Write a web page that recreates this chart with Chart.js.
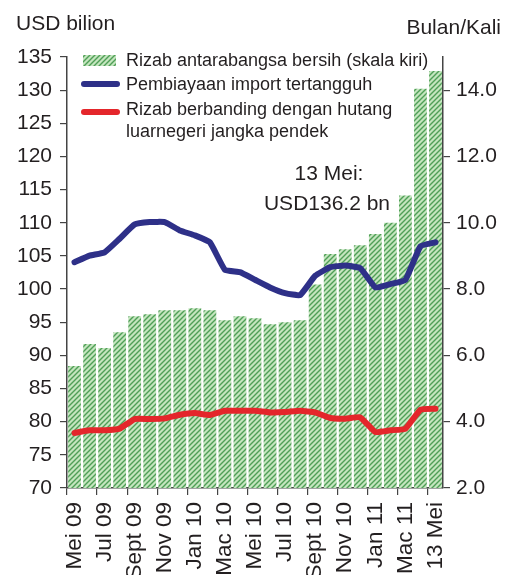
<!DOCTYPE html>
<html>
<head>
<meta charset="utf-8">
<script src="https://cdn.jsdelivr.net/npm/chart.js@4.4.0/dist/chart.umd.min.js"></script>
<style>
  html, body { margin: 0; padding: 0; background: #fff; }
  #wrap { width: 508px; height: 575px; }
</style>
</head>
<body>
<div id="wrap"><canvas id="myChart" width="508" height="575"></canvas></div>
<script>
// months on the x axis (only every second one gets a label)
var months = ['Mei 09', 'Jun 09', 'Jul 09', 'Ogos 09', 'Sept 09', 'Okt 09', 'Nov 09', 'Dis 09',
    'Jan 10', 'Feb 10', 'Mac 10', 'Apr 10', 'Mei 10', 'Jun 10', 'Jul 10', 'Ogos 10',
    'Sept 10', 'Okt 10', 'Nov 10', 'Dis 10', 'Jan 11', 'Feb 11', 'Mac 11', 'Apr 11', '13 Mei'];

// net international reserves, USD billion (left scale)
var reserves = [88.4, 91.7, 91.1, 93.5, 95.9, 96.2, 96.8, 96.8, 97.1, 96.8, 95.3, 95.9, 95.6,
    94.7, 95.0, 95.3, 100.7, 105.3, 106.0, 106.6, 108.3, 110.0, 114.1, 130.2, 132.9];

// months of retained imports (right scale)
var importCover = [8.81, 9.01, 9.11, 9.52, 9.95, 10.02, 10.02, 9.77, 9.62, 9.41, 8.58, 8.51, 8.28,
    8.05, 7.88, 7.82, 8.40, 8.66, 8.71, 8.63, 8.05, 8.15, 8.28, 9.29, 9.41];

// reserves to short-term external debt, times (right scale)
var debtCover = [3.66, 3.74, 3.74, 3.79, 4.08, 4.08, 4.10, 4.21, 4.26, 4.20, 4.33, 4.33, 4.33,
    4.28, 4.29, 4.33, 4.28, 4.11, 4.09, 4.13, 3.69, 3.74, 3.79, 4.36, 4.39];

var legendLabels = [
    ['Rizab antarabangsa bersih (skala kiri)'],
    ['Pembiayaan import tertangguh'],
    ['Rizab berbanding dengan hutang', 'luarnegeri jangka pendek']
];
var noteLines = ['13 Mei:', 'USD136.2 bn'];

var FONT = '"Liberation Sans", Arial, sans-serif';
var ink = '#231f20';
var blue = '#2e3088';
var red = '#e4262b';

// hatched green fill for the bars
function makeHatch() {
    var c = document.createElement('canvas');
    c.width = 5; c.height = 5;
    var g = c.getContext('2d');
    g.fillStyle = '#c4e5be';
    g.fillRect(0, 0, 5, 5);
    g.strokeStyle = '#4f9f57';
    g.lineWidth = 1.4;
    g.beginPath();
    g.moveTo(-1, 6); g.lineTo(6, -1);
    g.moveTo(-1, 1); g.lineTo(1, -1);
    g.moveTo(4, 6); g.lineTo(6, 4);
    g.stroke();
    return g.createPattern(c, 'repeat');
}

var ctx = document.getElementById('myChart').getContext('2d');
var hatch = makeHatch();

// titles, note and legend drawn on top
var extras = {
    id: 'extras',
    afterDraw: function(chart) {
        var c = chart.ctx;
        c.save();
        c.fillStyle = ink;
        c.font = '21px ' + FONT;
        c.textBaseline = 'alphabetic';
        c.textAlign = 'left';
        c.fillText('USD bilion', 16, 30);
        c.textAlign = 'right';
        c.fillText('Bulan/Kali', 501, 34);

        c.textAlign = 'center';
        c.fillText(noteLines[0], 329, 180);
        c.fillText(noteLines[1], 327, 210);

        // legend
        c.font = '18px ' + FONT;
        c.textAlign = 'left';
        c.textBaseline = 'middle';
        c.fillStyle = hatch;
        c.fillRect(83, 55, 33, 11);
        c.fillStyle = ink;
        c.fillText(legendLabels[0][0], 126, 61);

        c.lineCap = 'round';
        c.lineWidth = 6;
        c.strokeStyle = blue;
        c.beginPath(); c.moveTo(84, 84); c.lineTo(117, 84); c.stroke();
        c.fillText(legendLabels[1][0], 126, 85);

        c.strokeStyle = red;
        c.beginPath(); c.moveTo(84, 112); c.lineTo(117, 112); c.stroke();
        c.fillText(legendLabels[2][0], 126, 110);
        c.fillText(legendLabels[2][1], 126, 132);
        c.restore();
    }
};

var myChart = new Chart(ctx, {
    type: 'bar',
    data: {
        labels: months,
        datasets: [{
            type: 'line',
            label: legendLabels[1][0],
            data: importCover,
            yAxisID: 'yRight',
            borderColor: blue,
            borderWidth: 6,
            pointRadius: 0,
            tension: 0.12,
            borderCapStyle: 'round',
            borderJoinStyle: 'round',
            order: 1
        }, {
            type: 'line',
            label: legendLabels[2].join(' '),
            data: debtCover,
            yAxisID: 'yRight',
            borderColor: red,
            borderWidth: 6,
            pointRadius: 0,
            tension: 0.12,
            borderCapStyle: 'round',
            borderJoinStyle: 'round',
            order: 2
        }, {
            label: legendLabels[0][0],
            data: reserves,
            yAxisID: 'yLeft',
            backgroundColor: hatch,
            borderWidth: 0,
            categoryPercentage: 1,
            barPercentage: 0.85,
            order: 3
        }]
    },
    options: {
        responsive: false,
        animation: false,
        events: [],
        layout: { padding: { top: 57, left: 0, right: 0, bottom: 0 } },
        plugins: {
            legend: { display: false },
            tooltip: { enabled: false }
        },
        scales: {
            x: {
                offset: true,
                grid: {
                    drawOnChartArea: false,
                    tickLength: 7,
                    lineWidth: 1.2,
                    color: function(c) { return c.index % 2 === 0 ? '#444' : 'rgba(0,0,0,0)'; }
                },
                border: { color: '#444', width: 1.5 },
                ticks: {
                    autoSkip: false,
                    maxRotation: 90,
                    minRotation: 90,
                    padding: 7,
                    color: ink,
                    font: { family: FONT, size: 22.5 },
                    callback: function(v, i) { return i % 2 === 0 ? months[i] : ''; }
                },
                afterFit: function(s) { s.height = 87; }
            },
            yLeft: {
                position: 'left',
                min: 70,
                max: 135,
                grid: { drawOnChartArea: false, tickLength: 7, color: '#444', lineWidth: 1.2 },
                border: { color: '#444', width: 1.5 },
                ticks: {
                    stepSize: 5,
                    padding: 8,
                    color: ink,
                    font: { family: FONT, size: 21 }
                },
                afterFit: function(s) { s.width = 67; }
            },
            yRight: {
                position: 'right',
                min: 2,
                max: 15,
                grid: { drawOnChartArea: false, tickLength: 7, color: '#444', lineWidth: 1.2 },
                border: { color: '#444', width: 1.5 },
                ticks: {
                    stepSize: 2,
                    includeBounds: false,
                    padding: 6,
                    color: ink,
                    font: { family: FONT, size: 21 },
                    callback: function(v) { return v.toFixed(1); }
                },
                afterFit: function(s) { s.width = 65; }
            }
        }
    },
    plugins: [extras]
});
</script>
</body>
</html>
